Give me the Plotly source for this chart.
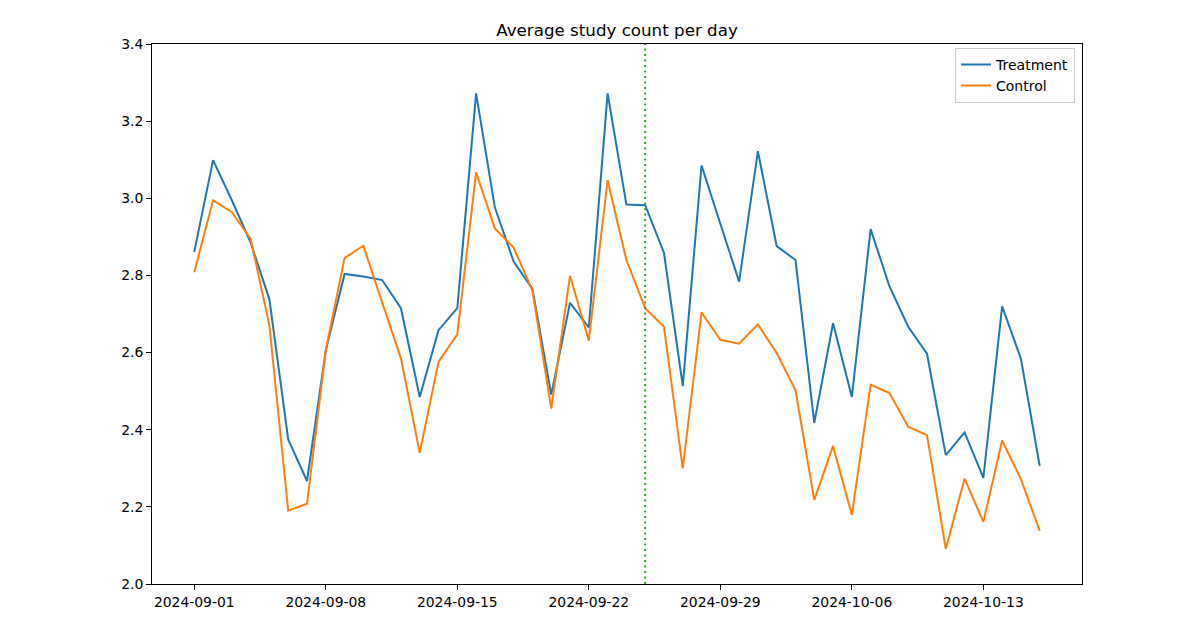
import plotly.graph_objects as go

dates = [
    "2024-09-01", "2024-09-02", "2024-09-03", "2024-09-04", "2024-09-05", "2024-09-06",
    "2024-09-07", "2024-09-08", "2024-09-09", "2024-09-10", "2024-09-11", "2024-09-12",
    "2024-09-13", "2024-09-14", "2024-09-15", "2024-09-16", "2024-09-17", "2024-09-18",
    "2024-09-19", "2024-09-20", "2024-09-21", "2024-09-22", "2024-09-23", "2024-09-24",
    "2024-09-25", "2024-09-26", "2024-09-27", "2024-09-28", "2024-09-29", "2024-09-30",
    "2024-10-01", "2024-10-02", "2024-10-03", "2024-10-04", "2024-10-05", "2024-10-06",
    "2024-10-07", "2024-10-08", "2024-10-09", "2024-10-10", "2024-10-11", "2024-10-12",
    "2024-10-13", "2024-10-14", "2024-10-15", "2024-10-16",
]

treatment = [
    2.861, 3.099, 2.995, 2.885, 2.738, 2.375, 2.267, 2.606, 2.804, 2.797,
    2.788, 2.715, 2.485, 2.658, 2.715, 3.272, 2.976, 2.836, 2.765, 2.491,
    2.729, 2.665, 3.272, 2.984, 2.982, 2.859, 2.513, 3.085, 2.934, 2.784,
    3.122, 2.876, 2.840, 2.418, 2.676, 2.485, 2.920, 2.772, 2.667, 2.597,
    2.334, 2.393, 2.275, 2.720, 2.584, 2.306,
]

control = [
    2.808, 2.995, 2.964, 2.895, 2.670, 2.190, 2.208, 2.606, 2.845, 2.877,
    2.730, 2.585, 2.340, 2.576, 2.647, 3.067, 2.922, 2.872, 2.761, 2.455,
    2.799, 2.631, 3.047, 2.840, 2.715, 2.667, 2.300, 2.704, 2.633, 2.623,
    2.673, 2.599, 2.502, 2.218, 2.358, 2.179, 2.517, 2.495, 2.408, 2.386,
    2.091, 2.273, 2.161, 2.372, 2.272, 2.138,
]

x_tick_vals = ["2024-09-01", "2024-09-08", "2024-09-15", "2024-09-22",
               "2024-09-29", "2024-10-06", "2024-10-13"]
y_tick_vals = [2.0, 2.2, 2.4, 2.6, 2.8, 3.0, 3.2, 3.4]
marker_date = "2024-09-25"

FONT = "DejaVu Sans"
W, H = 1192, 622

fig = go.Figure()
fig.add_trace(go.Scatter(x=dates, y=treatment, mode="lines", name="Treatment",
                         line=dict(color="#1f77b4", width=2)))
fig.add_trace(go.Scatter(x=dates, y=control, mode="lines", name="Control",
                         line=dict(color="#ff7f0e", width=2)))

fig.add_shape(type="line", xref="x", yref="paper", x0=marker_date, x1=marker_date,
              y0=0, y1=1, line=dict(color="#2ca02c", width=2, dash="2px,3.5px"))

fig.update_layout(
    width=W, height=H,
    margin=dict(l=144, r=118, t=36, b=46),
    paper_bgcolor="white", plot_bgcolor="white",
    font=dict(family=FONT, size=14, color="black"),
    title=dict(text="Average study count per day", x=0.5, xref="paper",
               y=1 - 22 / H, yanchor="middle", yref="container",
               font=dict(family=FONT, size=16.7, color="black")),
    showlegend=True,
    legend=dict(x=0.9925, y=0.993, xanchor="right", yanchor="top",
                bgcolor="rgba(255,255,255,0.8)", bordercolor="#cccccc", borderwidth=1,
                font=dict(family=FONT, size=14, color="black"),
                tracegroupgap=0, itemwidth=30),
    xaxis=dict(
        type="date",
        range=["2024-08-29 18:00", "2024-10-18 06:00"],
        tickvals=x_tick_vals, ticktext=x_tick_vals,
        showgrid=False, zeroline=False,
        showline=True, mirror=True, linecolor="black", linewidth=1,
        ticks="outside", ticklen=5, tickwidth=1, tickcolor="black",
        tickfont=dict(family=FONT, size=13.9, color="black"),
    ),
    yaxis=dict(
        range=[2.0, 3.4],
        tickvals=y_tick_vals, tickformat=".1f",
        showgrid=False, zeroline=False,
        showline=True, mirror=True, linecolor="black", linewidth=1,
        ticks="outside", ticklen=5, tickwidth=1, tickcolor="black",
        tickfont=dict(family=FONT, size=13.9, color="black"),
    ),
)

fig.write_html("out.html")
